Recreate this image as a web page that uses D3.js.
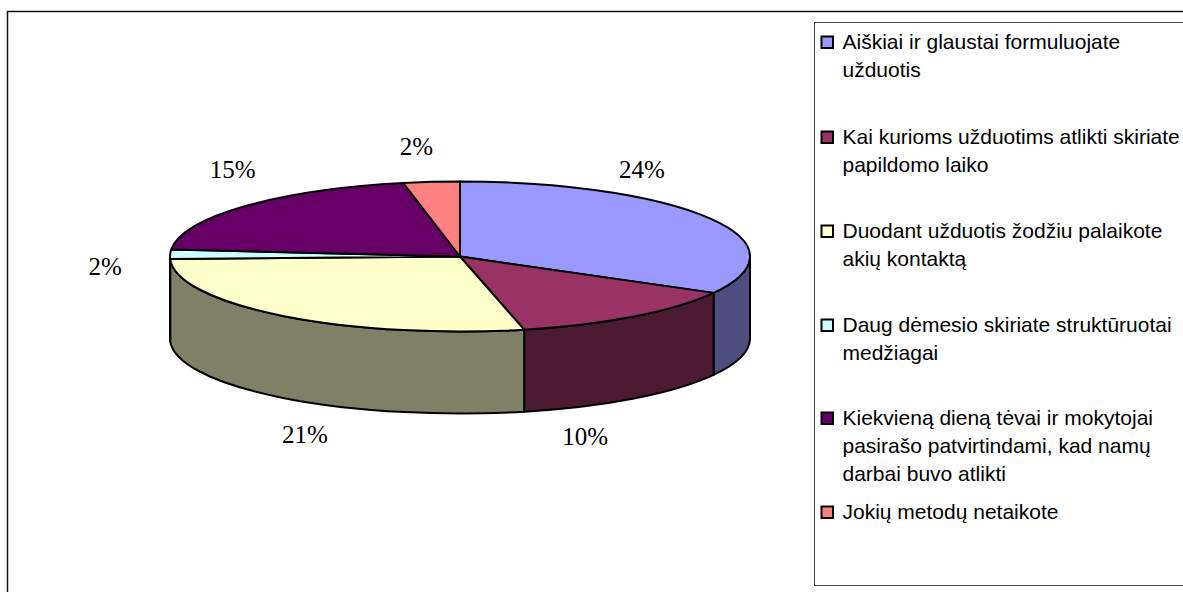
<!DOCTYPE html>
<html>
<head>
<meta charset="utf-8">
<script src="https://cdn.jsdelivr.net/npm/d3@7/dist/d3.min.js"></script>
<style>
html,body{margin:0;padding:0;background:#fff;overflow:hidden}
svg{display:block}
</style>
</head>
<body>
<svg id="chart" width="1183" height="592"></svg>
<script>
// Data
const categories = [
  ["Aiškiai ir glaustai formuluojate", "užduotis"],
  ["Kai kurioms užduotims atlikti skiriate", "papildomo laiko"],
  ["Duodant užduotis žodžiu palaikote", "akių kontaktą"],
  ["Daug dėmesio skiriate struktūruotai", "medžiagai"],
  ["Kiekvieną dieną tėvai ir mokytojai", "pasirašo patvirtindami, kad namų", "darbai buvo atlikti"],
  ["Jokių metodų netaikote"]
];
const values = [24.2, 9.8, 20.5, 1.5, 14.9, 2.3];
const valueLabels = ["24%", "10%", "21%", "2%", "15%", "2%"];
const colors = ["#9999FF", "#993366", "#FFFFCC", "#CCFFFF", "#660066", "#FF8080"];

// Layout
const W = 1183, H = 592;
const cx = 460, cy = 256.5, rx = 290, ry = 75, depth = 82;
const labelOffsets = [[-68,-48],[-49,121],[22,119],[-65,13],[-12,-36],[-15,-35]];
const legendBaselines = [[48,76],[143,171],[237,265],[331,359],[424,452,480],[518]];

const svg = d3.select("#chart");

svg.append("rect").attr("x",7.5).attr("y",11.5).attr("width",W+20).attr("height",H+20)
  .attr("fill","#fff").attr("stroke","#111").attr("stroke-width",1.5);

const pie = d3.pie().sort(null).value(d => d);
const arcs = pie(values);
const rim = a => [cx + rx*Math.sin(a), cy - ry*Math.cos(a)];
const darker = c => { const k = d3.rgb(c); return d3.rgb(k.r*0.5, k.g*0.5, k.b*0.5).formatHex(); };

// Side wall: only the front half of the ellipse is visible
const side = svg.append("g");
arcs.forEach((d,i) => {
  const a0 = Math.max(d.startAngle, Math.PI/2), a1 = Math.min(d.endAngle, 3*Math.PI/2);
  if (a1 <= a0) return;
  const [x0,y0] = rim(a0), [x1,y1] = rim(a1);
  side.append("path")
    .attr("d", `M${x0},${y0}A${rx},${ry} 0 0 1 ${x1},${y1}L${x1},${y1+depth}A${rx},${ry} 0 0 0 ${x0},${y0+depth}Z`)
    .attr("fill", darker(colors[i]))
    .attr("stroke","#000").attr("stroke-width",2).attr("stroke-linejoin","round");
});

// Top face
const arc = d3.arc().innerRadius(0).outerRadius(rx);
svg.append("g").attr("transform",`translate(${cx},${cy}) scale(1,${ry/rx})`)
  .selectAll("path").data(arcs).join("path")
  .attr("d", arc)
  .attr("fill",(d,i)=>colors[i])
  .attr("stroke","#000").attr("stroke-width",2).attr("stroke-linejoin","round")
  .attr("vector-effect","non-scaling-stroke");

// Value labels
svg.append("g").selectAll("text").data(arcs).join("text")
  .attr("x",(d,i)=>rim((d.startAngle+d.endAngle)/2)[0]+labelOffsets[i][0])
  .attr("y",(d,i)=>rim((d.startAngle+d.endAngle)/2)[1]+labelOffsets[i][1]+8)
  .attr("text-anchor","middle")
  .attr("font-family","'Liberation Serif',serif").attr("font-size",25).attr("fill","#000")
  .text((d,i)=>valueLabels[i]);

// Legend
svg.append("rect").attr("x",814.5).attr("y",22.5).attr("width",W).attr("height",563)
  .attr("fill","#fff").attr("stroke","#444").attr("stroke-width",1);
const legend = svg.append("g");
categories.forEach((lines,i) => {
  legend.append("rect")
    .attr("x",821.5).attr("y",legendBaselines[i][0]-11.5).attr("width",11.5).attr("height",11.5)
    .attr("fill",colors[i]).attr("stroke","#000").attr("stroke-width",2);
  lines.forEach((t,j) => legend.append("text")
    .attr("x",842.5).attr("y",legendBaselines[i][j]+0.5)
    .attr("font-family","'Liberation Sans',Arial,sans-serif").attr("font-size",21).attr("fill","#000")
    .text(t));
});
</script>
</body>
</html>
